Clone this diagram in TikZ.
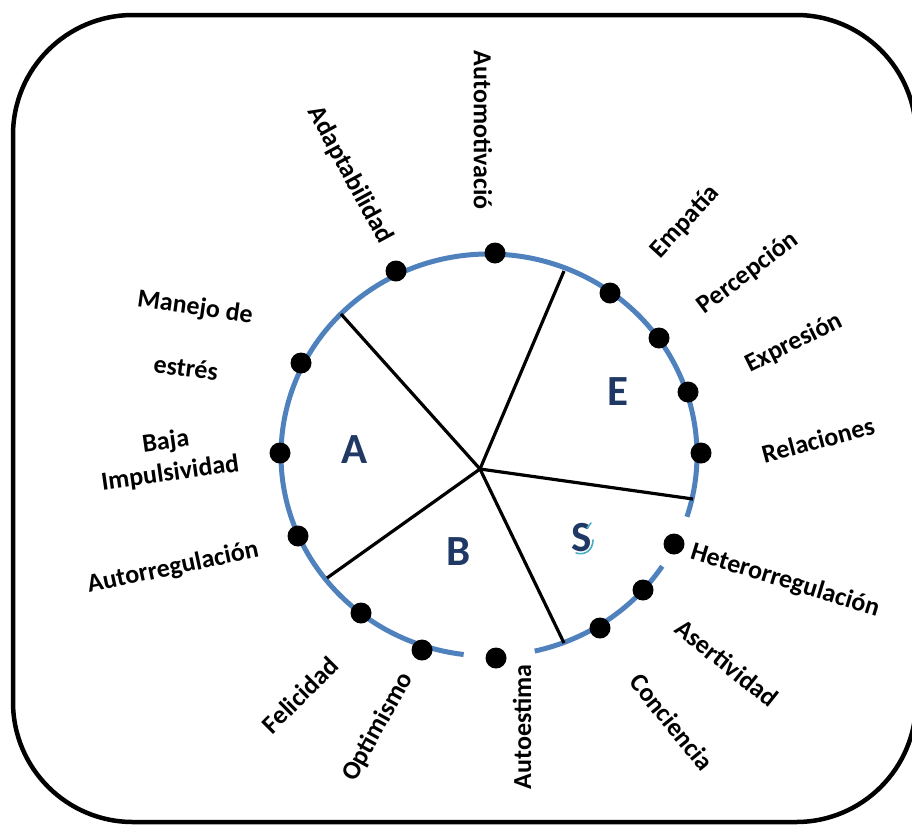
\documentclass[tikz,border=0pt]{standalone}
\usepackage{fontspec}
\setmainfont{Carlito}
\definecolor{ringblue}{RGB}{79,129,189}
\definecolor{navy}{RGB}{31,56,100}
\definecolor{swoosh}{RGB}{75,172,198}
\begin{document}
\begin{tikzpicture}[x=1pt,y=-1pt,
  lbl/.style={font=\bfseries\fontsize{26}{32}\selectfont, inner sep=0pt, align=center},
  big/.style={font=\bfseries\fontsize{43}{46}\selectfont, text=navy, inner sep=0pt},
  dotnode/.style={circle, fill=black, inner sep=0pt, minimum size=21pt},
  ring/.style={draw=ringblue, line width=5pt},
  spoke/.style={draw=black, line width=3.2pt},
  swooshline/.style={draw=swoosh, line width=1.6pt, line cap=round},
  frame/.style={draw=black, line width=4.5pt, rounded corners=120pt}]
\useasboundingbox (0,0) rectangle (912,825);
\clip (0,0) rectangle (912,825);
\draw[frame] (13,15) rectangle (916,822);

% ring (two arcs, with gaps)
\draw[ring] (489,455) ++(97:208 and 201) arc[start angle=97, end angle=377.9, x radius=208, y radius=201];
\draw[ring] (489,455) ++(33.6:208 and 201) arc[start angle=33.6, end angle=77.3, x radius=208, y radius=201];

% spokes
\coordinate (c) at (480,469);
\coordinate (e1) at (341,314);
\coordinate (e2) at (564,271);
\coordinate (e3) at (693,499);
\coordinate (e4) at (564,643);
\coordinate (e5) at (327,578);
\draw[spoke] (c) -- (e1);
\draw[spoke] (c) -- (e2);
\draw[spoke] (c) -- (e3);
\draw[spoke] (c) -- (e4);
\draw[spoke] (c) -- (e5);

% dots
\node[dotnode] (dAdapt) at (396,271) {};
\node[dotnode] (dAutom) at (495,253) {};
\node[dotnode] (dEmp) at (610,293) {};
\node[dotnode] (dPerc) at (659,338) {};
\node[dotnode] (dExp) at (688,392) {};
\node[dotnode] (dRel) at (701,453) {};
\node[dotnode] (dHet) at (674,544) {};
\node[dotnode] (dAser) at (643,590) {};
\node[dotnode] (dConc) at (600,628) {};
\node[dotnode] (dAutoe) at (496,658) {};
\node[dotnode] (dOpt) at (422,650) {};
\node[dotnode] (dFel) at (361,613) {};
\node[dotnode] (dAutor) at (298,536) {};
\node[dotnode] (dBaja) at (280,453) {};
\node[dotnode] (dMan) at (301,363) {};

% sector letters
\node[big] (A) at (355,450) {A};
\node[big] (E) at (618,392) {E};
\node[big] (B) at (459,552) {B};
\node[big] (S) at (582,538) {S};
\draw[swooshline] (576,553) .. controls (586,556) and (593,549) .. (593,540);
\draw[swooshline] (587,528) -- (591,523);

% labels
\node[lbl, rotate=-90] (lAutom) at (483,130) {Automotivació};
\node[lbl, rotate=-61.5] (lAdapt) at (350,175) {Adaptabilidad};
\node[lbl, rotate=47.6] (lEmp) at (685,222) {Empatía};
\node[lbl, rotate=37] (lPerc) at (748,273) {Percepción};
\node[lbl, rotate=26.5] (lExp) at (794,343) {Expresión};
\node[lbl, rotate=15] (lRel) at (818,440) {Relaciones};
\node[lbl, rotate=-17] (lHet) at (785,581) {Heterorregulación};
\node[lbl, rotate=-38.7] (lAser) at (727,663) {Asertividad};
\node[lbl, rotate=-51] (lConc) at (672,722) {Conciencia};
\node[lbl, rotate=90] (lAutoe) at (522,727) {Autoestima};
\node[lbl, rotate=61] (lOpt) at (378,727) {Optimismo};
\node[lbl, rotate=45] (lFel) at (300,695) {Felicidad};
\node[lbl, rotate=12] (lAutor) at (173,568) {Autorregulación};
\node[lbl, rotate=8] (lBaja) at (168,458) {Baja\\Impulsividad};
\node[lbl, rotate=-8] (lMan1) at (195,308) {Manejo de};
\node[lbl, rotate=-7] (lMan2) at (186,368) {estrés};
\end{tikzpicture}
\end{document}
